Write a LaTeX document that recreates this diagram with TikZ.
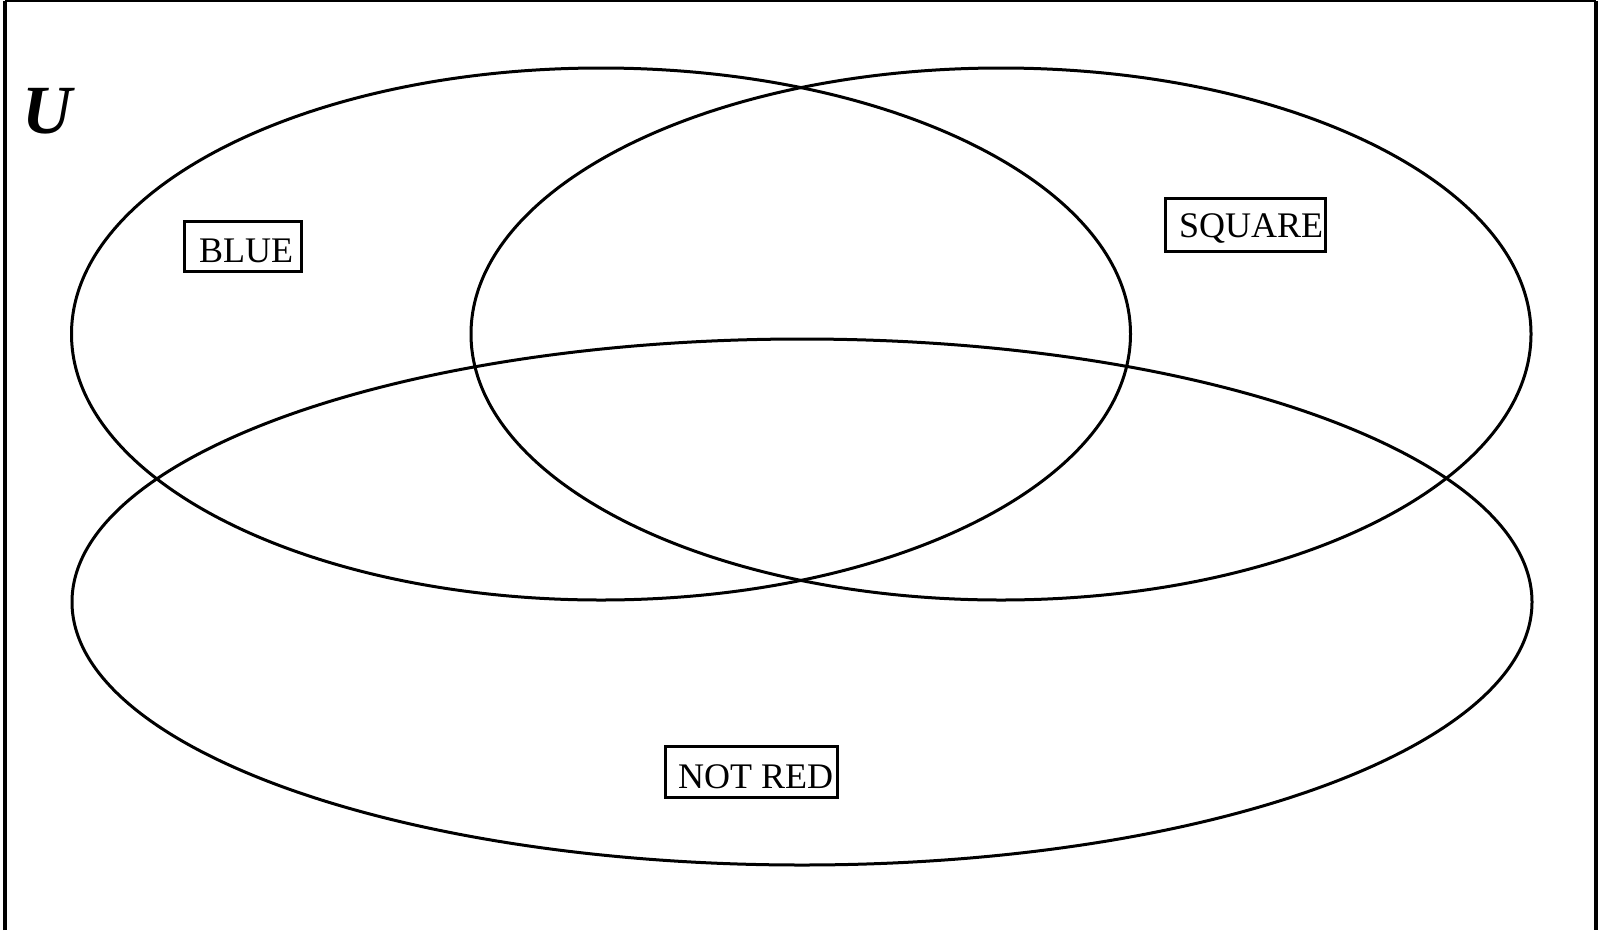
\documentclass[tikz,border=0pt]{standalone}
\usepackage{fontspec}
\setmainfont{Liberation Serif}
\usetikzlibrary{shapes.geometric}
\tikzset{
  venn/.style={ellipse, draw, line width=3pt, inner sep=0pt},
  labelbox/.style={rectangle, draw, line width=3pt, inner sep=0pt},
  labeltext/.style={inner sep=0pt, anchor=base west, font=\fontsize{36}{40}\selectfont},
  frame/.style={line width=4pt}
}
\begin{document}
\begin{tikzpicture}[x=1pt,y=-1pt]
\useasboundingbox (0,0) rectangle (1598,930);
% frame (left, top, right)
\coordinate (bl) at (5,930);
\coordinate (tl) at (5,1);
\coordinate (tr) at (1596,1);
\coordinate (br) at (1596,930);
\draw[frame] (bl) -- (tl);
\draw[line width=2pt] (tl) -- (tr);
\draw[frame] (tr) -- (br);
% universe label
\node[inner sep=0pt, anchor=base west, font=\fontsize{69}{72}\selectfont\bfseries\itshape] (U) at (22,133) {U};
% sets
\node[venn, minimum width=1059pt, minimum height=532pt] (blueset) at (601,334) {};
\node[venn, minimum width=1060pt, minimum height=532pt] (squareset) at (1001,334) {};
\node[venn, minimum width=1460pt, minimum height=526pt] (notredset) at (802,602) {};
% label boxes
\node[labelbox, minimum width=117pt, minimum height=50pt] (bluebox) at (242.5,246) {};
\node[labeltext] (bluetext) at (199,262) {BLUE};
\node[labelbox, minimum width=160pt, minimum height=53pt] (squarebox) at (1245,224.5) {};
\node[labeltext] (squaretext) at (1179,237) {SQUARE};
\node[labelbox, minimum width=172pt, minimum height=51pt] (notredbox) at (751,771.5) {};
\node[labeltext] (notredtext) at (678,788) {NOT RED};
\end{tikzpicture}
\end{document}
